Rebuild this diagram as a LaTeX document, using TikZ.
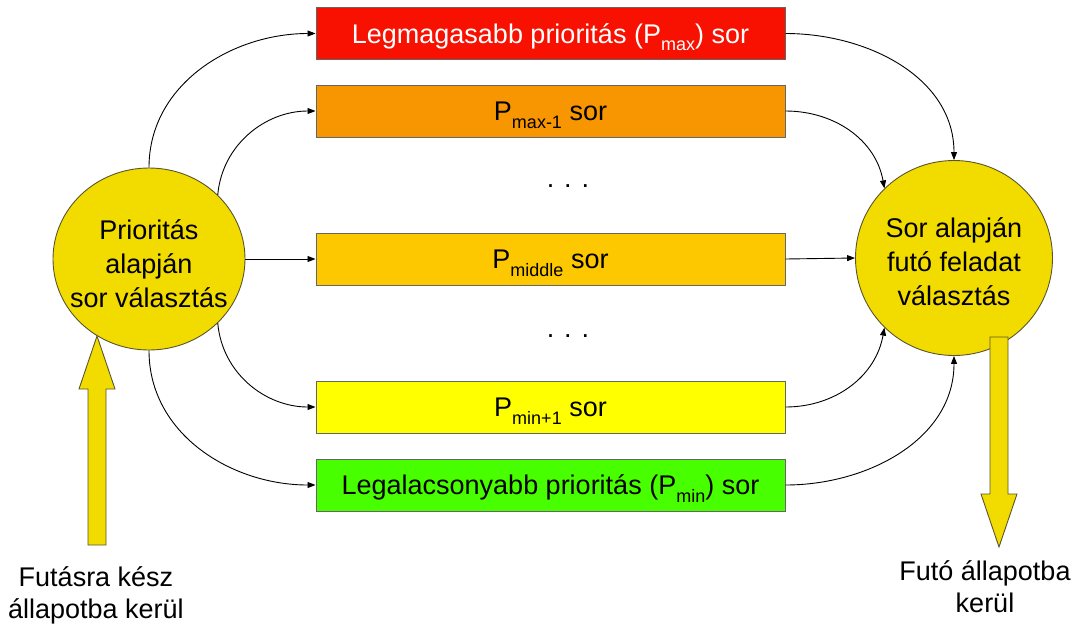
\documentclass[tikz,border=0pt]{standalone}
\usepackage{fontspec}
\setmainfont{Liberation Sans}
\usetikzlibrary{shapes.geometric,arrows.meta}

\definecolor{gold}{HTML}{F2DC00}
\definecolor{qred}{HTML}{F81000}
\definecolor{qorange}{HTML}{F79600}
\definecolor{qamber}{HTML}{FDC800}
\definecolor{qyellow}{HTML}{FFFF00}
\definecolor{qgreen}{HTML}{48FF00}
\definecolor{edgegray}{HTML}{666666}
\definecolor{rimcol}{HTML}{5A5530}

\newcommand\lowtxt[1]{\raisebox{-0.28em}{\fontsize{18}{18}\selectfont #1}}

\tikzset{
  queue/.style={draw=edgegray, line width=1pt, minimum width=469pt, minimum height=52pt,
    inner sep=0pt, text height=19pt, text depth=0pt, font=\fontsize{27}{30}\selectfont},
  chooser/.style={ellipse, draw=rimcol, line width=0.9pt, fill=gold, inner sep=0pt},
  choosertext/.style={align=center, font=\fontsize{27}{34}\selectfont},
  link/.style={line width=0.9pt, -{Triangle[length=8pt,width=6pt]}},
  blockarrow/.style={draw=rimcol, line width=0.9pt, fill=gold},
  caption/.style={align=center, font=\fontsize{27}{32}\selectfont},
  dots/.style={font=\fontsize{27}{30}\selectfont}
}

\begin{document}
\begin{tikzpicture}[x=1pt,y=-1pt]
\useasboundingbox (0,0) rectangle (1080,625);

% priority queues
\node[queue, fill=qred, text=white] (b1) at (550.5,33.5) {Legmagasabb prioritás (P\lowtxt{max}) sor};
\node[queue, fill=qorange] (b2) at (550.5,111) {P\lowtxt{max-1} sor};
\node[queue, fill=qamber] (b3) at (550.5,259) {P\lowtxt{middle} sor};
\node[queue, fill=qyellow] (b4) at (550.5,407) {P\lowtxt{min+1} sor};
\node[queue, fill=qgreen] (b5) at (550.5,485) {Legalacsonyabb prioritás (P\lowtxt{min}) sor};

\node[dots] (d1) at (568,186) {. . .};
\node[dots] (d2) at (568,336) {. . .};

% selectors
\node[chooser, minimum width=192pt, minimum height=182pt] (lc) at (149,259) {};
\node[choosertext] (lct) at (149,264) {Prioritás\\alapján\\sor választás};
\node[chooser, minimum width=197pt, minimum height=195pt] (rc) at (954,258) {};
\node[choosertext] (rct) at (954,262) {Sor alapján\\futó feladat\\választás};

% from the queue selector to the queues
\draw[link] (lc.north) to[out=90,in=180] (b1.west);
\draw[link] (lc.43) to[out=85,in=180] (b2.west);
\draw[link] (lc.east) -- (b3.west);
\draw[link] (lc.-43) to[out=-85,in=180] (b4.west);
\draw[link] (lc.south) to[out=-90,in=180] (b5.west);

% from the queues to the task selector
\draw[link] (b1.east) to[out=0,in=90] (rc.north);
\draw[link] (b2.east) to[out=0,in=100] (rc.135);
\draw[link] (b3.east) -- (rc.west);
\draw[link] (b4.east) to[out=0,in=-100] (rc.225);
\draw[link] (b5.east) to[out=0,in=-90] (rc.south);

% entry and exit arrows
\draw[blockarrow] (88,545) -- (88,389) -- (79,389) -- (97,336) -- (115,389) -- (106,389) -- (106,545) -- cycle;
\draw[blockarrow] (990,337) -- (990,494) -- (981,494) -- (999,547) -- (1017,494) -- (1008,494) -- (1008,337) -- cycle;

\node[caption] (inlbl) at (96,595) {Futásra kész\\állapotba kerül};
\node[caption] (outlbl) at (985,587) {Futó állapotba\\kerül};
\end{tikzpicture}
\end{document}
